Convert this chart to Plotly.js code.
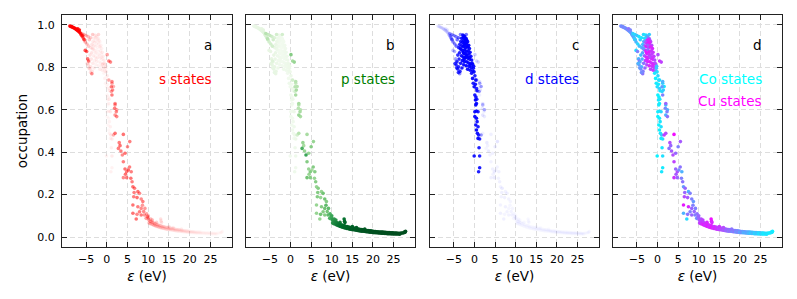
<!DOCTYPE html>
<html><head><meta charset="utf-8">
<script src="https://cdn.plot.ly/plotly-3.0.1.min.js"></script>
<style>body{margin:0;background:#fff}#chart{width:797px;height:299px}</style>
</head><body><div id="chart"></div>
<script>
// ---- tick labels / panel labels ----
const xTicks = [-5, 0, 5, 10, 15, 20, 25];
const yTicks = [0.0, 0.2, 0.4, 0.6, 0.8, 1.0];
const panelLetters = ['a', 'b', 'c', 'd'];
const panelTexts = ['s states', 'p states', 'd states'];
const metalTexts = ['Co states', 'Cu states'];

// ---- states: energy (eV), occupation, s / p / d character, Cu fraction ----
// deep s band
const sBandE   = [-8.9,-8.7,-8.5,-8.3,-8.1,-7.9,-7.7,-7.5,-7.3,-7.1,-6.9,-6.7,-6.5,-6.3,-6.1,-5.9,-7.0,-6.6,-5.7,-5.5];
const sBandOcc = [0.995,0.993,0.992,0.990,0.988,0.986,0.984,0.981,0.978,0.975,0.972,0.968,0.964,0.958,0.952,0.946,0.982,0.976,0.940,0.930];
const sBandS   = [0.95,0.95,0.94,0.94,0.93,0.93,0.92,0.92,0.90,0.90,0.88,0.85,0.80,0.75,0.65,0.55,0.90,0.85,0.45,0.40];
const sBandP   = [0.08,0.08,0.09,0.09,0.10,0.10,0.10,0.11,0.11,0.12,0.12,0.13,0.14,0.15,0.16,0.18,0.11,0.13,0.20,0.22];
const sBandD   = [0.06,0.06,0.07,0.07,0.08,0.08,0.08,0.09,0.09,0.10,0.10,0.10,0.12,0.14,0.20,0.27,0.09,0.10,0.35,0.38];
const sBandCu  = [0.45,0.50,0.42,0.48,0.50,0.45,0.40,0.52,0.45,0.38,0.50,0.42,0.35,0.45,0.30,0.40,0.55,0.48,0.35,0.30];
// s-rich states inside the d region
const sMixE   = [-5.8,-5.4,-5.2,-4.85,-4.6,-4.4,-3.6,0.1,0.5,0.9];
const sMixOcc = [0.950,0.930,0.880,0.875,0.840,0.830,0.770,0.860,0.830,0.825];
const sMixS   = [0.55,0.50,0.65,0.60,0.55,0.50,0.45,0.35,0.50,0.45];
const sMixP   = [0.15,0.15,0.10,0.10,0.10,0.15,0.10,0.45,0.35,0.40];
const sMixD   = [0.30,0.35,0.25,0.30,0.35,0.35,0.45,0.20,0.15,0.15];
const sMixCu  = [0.30,0.20,0.15,0.50,0.30,0.60,0.55,0.70,0.80,0.75];
// d band
const dBandE = [-2.83,-2.55,-2.71,-3.12,-2.38,-2.02,-1.87,-2.64,-3.34,-2.21, -1.66,-2.95,-2.47,-1.93,-1.41,-3.58,-3.07,-2.69,-2.15,-1.74,
  -1.23,-3.81,-3.29,-2.86,-2.33,-1.98,-1.52,-1.08,-3.63,-2.58, -2.12,-1.79,-1.35,-0.88,-4.05,-3.18,-2.76,-2.26,-1.61,-1.17,
  -0.69,-3.74,-2.95,-2.44,-1.87,-1.42,-0.95,-0.47,-4.24,-3.36, -2.61,-1.99,-1.26,-0.73,-0.28,-4.46,-3.88,-3.05,-1.68,-1.05,
  -0.42,-0.11,-4.05,-3.52,-4.72,-4.31,-3.91,-2.35,-1.55,-2.05, -1.25,-0.6,-2.7,-3.4,-1.1,-0.2,-1.9,-2.5];
const dBandOcc = [0.953,0.948,0.941,0.937,0.944,0.936,0.928,0.926,0.922,0.931, 0.921,0.918,0.913,0.909,0.904,0.908,0.902,0.898,0.894,0.897,
  0.889,0.893,0.884,0.879,0.883,0.874,0.878,0.871,0.869,0.866, 0.861,0.858,0.863,0.852,0.858,0.855,0.849,0.846,0.843,0.838,
  0.835,0.839,0.832,0.828,0.826,0.821,0.817,0.814,0.826,0.819, 0.812,0.808,0.804,0.799,0.796,0.811,0.803,0.797,0.791,0.787,
  0.783,0.779,0.792,0.781,0.818,0.797,0.776,0.906,0.896,0.918, 0.848,0.820,0.870,0.890,0.812,0.805,0.850,0.840];
const dBandS = [0.07,0.05,0.05,0.07,0.05,0.05,0.04,0.05,0.08,0.04, 0.05,0.05,0.03,0.04,0.05,0.10,0.07,0.04,0.03,0.04,
  0.05,0.10,0.07,0.05,0.03,0.04,0.05,0.07,0.10,0.04, 0.03,0.04,0.05,0.07,0.11,0.07,0.05,0.04,0.04,0.05,
  0.07,0.10,0.05,0.05,0.04,0.05,0.07,0.07,0.12,0.08, 0.05,0.05,0.05,0.07,0.07,0.12,0.11,0.08,0.07,0.07,
  0.07,0.07,0.12,0.11,0.13,0.12,0.12,0.03,0.04,0.03, 0.05,0.07,0.04,0.08,0.07,0.07,0.03,0.05];
const dBandP = [0.06,0.04,0.05,0.06,0.04,0.04,0.04,0.05,0.07,0.04, 0.04,0.05,0.03,0.04,0.05,0.09,0.06,0.04,0.03,0.04,
  0.05,0.09,0.06,0.04,0.03,0.04,0.05,0.06,0.09,0.04, 0.03,0.04,0.05,0.06,0.10,0.06,0.05,0.04,0.04,0.05,
  0.06,0.09,0.05,0.04,0.04,0.05,0.06,0.07,0.11,0.07, 0.05,0.04,0.05,0.06,0.07,0.11,0.10,0.07,0.06,0.06,
  0.07,0.07,0.11,0.10,0.12,0.11,0.11,0.03,0.04,0.03, 0.05,0.06,0.04,0.07,0.06,0.07,0.03,0.05];
const dBandD = [0.92,0.94,0.93,0.90,0.95,0.94,0.96,0.95,0.88,0.96, 0.95,0.93,0.97,0.96,0.94,0.86,0.92,0.96,0.97,0.96,
  0.93,0.84,0.90,0.95,0.97,0.96,0.95,0.92,0.86,0.96, 0.97,0.96,0.94,0.90,0.82,0.91,0.95,0.96,0.96,0.93,
  0.90,0.84,0.93,0.95,0.96,0.94,0.92,0.90,0.80,0.88, 0.93,0.95,0.93,0.91,0.90,0.80,0.82,0.88,0.92,0.92,
  0.90,0.90,0.80,0.82,0.78,0.80,0.80,0.97,0.96,0.97, 0.94,0.91,0.96,0.88,0.92,0.90,0.97,0.95];
const dBandCu = [0.10,0.25,0.20,0.15,0.40,0.55,0.70,0.80,0.30,0.85, 0.75,0.60,0.90,0.85,0.70,0.25,0.65,0.90,0.70,0.90,
  0.85,0.30,0.45,0.85,0.60,0.90,0.80,0.80,0.35,0.90, 0.75,0.85,0.75,0.75,0.25,0.60,0.85,0.90,0.80,0.85,
  0.70,0.30,0.75,0.85,0.90,0.80,0.85,0.60,0.35,0.55, 0.70,0.85,0.80,0.75,0.20,0.40,0.30,0.60,0.75,0.80,
  0.50,0.15,0.45,0.50,0.30,0.40,0.45,0.65,0.85,0.90, 0.80,0.70,0.90,0.40,0.85,0.25,0.70,0.85];
// partially d states around the d band
const dHaloE   = [-6.0,-5.5,-5.0,-4.5,-4.2,-5.2,-4.8,-4.4,-5.6,-3.9,-3.4,-2.0];
const dHaloOcc = [0.960,0.955,0.950,0.945,0.930,0.920,0.910,0.900,0.935,0.940,0.955,0.955];
const dHaloS   = [0.30,0.30,0.25,0.25,0.20,0.30,0.25,0.20,0.30,0.20,0.20,0.15];
const dHaloP   = [0.30,0.25,0.25,0.20,0.20,0.20,0.20,0.20,0.30,0.15,0.20,0.20];
const dHaloD   = [0.35,0.40,0.45,0.50,0.55,0.45,0.50,0.55,0.35,0.60,0.50,0.55];
const dHaloCu  = [0.20,0.15,0.25,0.10,0.20,0.30,0.15,0.25,0.20,0.10,0.15,0.20];
// Co d streak above the Fermi level
const coE = [-0.7,-0.47,-0.31,-0.08,0.08,0.23,0.47,0.31,0.08,0.47,0.86,0.08,0.47,0.63,0.31,0.86,0.47,0.7,1.0,1.25,
  0.86,1.1,-0.08,1.25,1.25,1.0,0.1,0.3,0.2,0.5,0.6,0.35,0.55];
const coOcc = [0.772,0.748,0.725,0.709,0.670,0.646,0.630,0.623,0.591,0.594,0.591,0.568,0.560,0.544,0.528,0.520,0.505,0.489,0.481,0.462,
  0.465,0.421,0.382,0.382,0.327,0.308,0.760,0.740,0.720,0.700,0.690,0.660,0.650];
const coS = [0.04,0.05,0.04,0.03,0.04,0.03,0.05,0.03,0.04,0.05,0.08,0.03,0.03,0.05,0.04,0.06,0.03,0.05,0.08,0.08,
  0.04,0.06,0.05,0.08,0.05,0.06,0.08,0.05,0.04,0.08,0.06,0.05,0.07];
const coP = [0.05,0.04,0.06,0.04,0.05,0.04,0.05,0.03,0.04,0.05,0.07,0.04,0.03,0.05,0.04,0.06,0.04,0.05,0.06,0.07,
  0.04,0.06,0.05,0.06,0.05,0.06,0.07,0.05,0.04,0.07,0.06,0.05,0.07];
const coD = [0.90,0.92,0.88,0.93,0.90,0.94,0.91,0.95,0.92,0.90,0.85,0.93,0.95,0.90,0.92,0.88,0.94,0.90,0.86,0.85,
  0.92,0.88,0.90,0.86,0.90,0.88,0.85,0.90,0.92,0.85,0.88,0.90,0.86];
const coCu = [0.10,0.05,0.08,0.12,0.05,0.10,0.04,0.08,0.06,0.12,0.15,0.05,0.08,0.10,0.05,0.12,0.06,0.10,0.20,0.15,
  0.08,0.10,0.05,0.12,0.08,0.10,0.15,0.10,0.08,0.20,0.12,0.06,0.10];
// mixed s/p/d states next to the streak
const spdE   = [0.5,1.25,1.6,1.1,2.0,2.4];
const spdOcc = [0.740,0.725,0.710,0.686,0.623,0.600];
const spdS   = [0.30,0.35,0.30,0.35,0.40,0.35];
const spdP   = [0.20,0.25,0.30,0.20,0.30,0.30];
const spdD   = [0.50,0.40,0.40,0.45,0.30,0.35];
const spdCu  = [0.15,0.20,0.10,0.15,0.25,0.30];
// s/p diagonal
const diagE = [1.25,1.1,1.4,1.25,2.0,1.9,2.3,2.0,2.4,2.0, 4.0,3.0,3.2,2.8,3.4,3.75,4.4,5.55,5.0,4.0,
  4.4,4.8,5.2,5.9,4.5,4.8,4.0,5.8,6.1,6.3, 6.7,7.5,7.9,6.5,7.3,8.3,8.7,6.3,7.5,8.3,
  7.9,6.3,7.3,8.3,7.1,9.1,9.5,9.8,8.9,9.2, 1.6,5.5,6.6,8.6,9.6,10.0];
const diagOcc = [0.733,0.709,0.693,0.670,0.630,0.607,0.591,0.575,0.568,0.489, 0.484,0.445,0.431,0.418,0.406,0.387,0.395,0.450,0.426,0.355,
  0.321,0.308,0.316,0.308,0.296,0.280,0.280,0.277,0.261,0.237, 0.230,0.214,0.206,0.190,0.186,0.179,0.167,0.151,0.143,0.135,
  0.119,0.112,0.107,0.104,0.085,0.104,0.088,0.096,0.120,0.135, 0.481,0.330,0.210,0.150,0.110,0.100];
const diagS = [0.45,0.50,0.45,0.50,0.45,0.50,0.45,0.40,0.45,0.55, 0.55,0.50,0.55,0.50,0.50,0.45,0.55,0.50,0.45,0.50,
  0.55,0.50,0.60,0.50,0.55,0.50,0.45,0.55,0.50,0.55, 0.50,0.55,0.45,0.50,0.55,0.45,0.50,0.55,0.50,0.45,
  0.50,0.55,0.45,0.50,0.55,0.40,0.35,0.40,0.45,0.40, 0.30,0.50,0.50,0.40,0.35,0.30];
const diagP = [0.30,0.30,0.35,0.35,0.35,0.30,0.35,0.40,0.35,0.30, 0.35,0.40,0.35,0.60,0.40,0.65,0.40,0.40,0.45,0.45,
  0.40,0.45,0.35,0.45,0.40,0.45,0.50,0.40,0.45,0.40, 0.45,0.40,0.50,0.45,0.40,0.50,0.45,0.40,0.45,0.50,
  0.45,0.40,0.50,0.45,0.40,0.55,0.60,0.55,0.50,0.55, 0.20,0.45,0.45,0.55,0.60,0.65];
const diagD = [0.10,0.08,0.12,0.06,0.10,0.08,0.06,0.10,0.08,0.05, 0.06,0.08,0.05,0.04,0.08,0.05,0.06,0.10,0.08,0.05,
  0.06,0.08,0.05,0.06,0.05,0.08,0.06,0.05,0.06,0.05, 0.08,0.05,0.06,0.05,0.06,0.05,0.04,0.05,0.06,0.04,
  0.05,0.06,0.04,0.05,0.06,0.05,0.04,0.04,0.05,0.04, 0.40,0.05,0.06,0.04,0.04,0.03];
const diagCu = [0.30,0.40,0.20,0.50,0.60,0.45,0.50,0.30,0.55,0.70, 0.95,0.70,0.60,0.55,0.65,0.70,0.60,0.65,0.50,0.75,
  0.60,0.70,0.45,0.30,0.65,0.60,0.80,0.50,0.55,0.40, 0.60,0.30,0.50,0.70,0.65,0.50,0.40,0.90,0.85,0.60,
  0.50,0.30,0.55,0.60,0.15,0.50,0.45,0.55,0.60,0.50, 0.75,0.55,0.60,0.50,0.55,0.60];
// high-energy p tail (upper edge)
const tailUpE = [10.1,10.4,10.7,11.0,11.3,11.6,11.9,12.2,12.5,12.8, 13.1,13.4,13.7,14.0,14.3,14.6,14.9,15.2,15.5,15.8,
  16.1,16.4,16.7,17.0,17.3,17.6,17.9,18.2,18.5,18.8, 19.1,19.4,19.7,20.0,20.3,20.6,20.9,21.2,21.5,21.8,
  22.1,22.4,22.7,23.0,23.3,23.6,23.9,24.2,24.5,24.8, 25.1,25.4,25.7,26.0,26.3,26.6,26.9,27.2,27.5,27.8];
const tailUpOcc = [0.081,0.074,0.073,0.069,0.067,0.063,0.061,0.058,0.057,0.054, 0.053,0.050,0.050,0.047,0.046,0.045,0.043,0.042,0.041,0.040,
  0.039,0.038,0.037,0.035,0.035,0.034,0.032,0.032,0.031,0.030, 0.029,0.029,0.028,0.027,0.026,0.026,0.025,0.025,0.024,0.024,
  0.023,0.023,0.022,0.022,0.021,0.021,0.021,0.020,0.020,0.020, 0.019,0.019,0.019,0.018,0.018,0.018,0.019,0.019,0.020,0.023];
const tailUpS = [0.28,0.25,0.24,0.22,0.20,0.19,0.17,0.16,0.15,0.14, 0.13,0.13,0.12,0.11,0.11,0.10,0.10,0.09,0.09,0.08,
  0.08,0.08,0.07,0.07,0.07,0.06,0.06,0.06,0.05,0.05, 0.05,0.05,0.04,0.04,0.04,0.04,0.04,0.03,0.03,0.03,
  0.03,0.03,0.03,0.02,0.02,0.02,0.02,0.02,0.02,0.02, 0.02,0.02,0.02,0.02,0.02,0.02,0.02,0.02,0.02,0.02];
const tailUpP = [0.70,0.72,0.75,0.78,0.80,0.82,0.84,0.85,0.86,0.87, 0.88,0.86,0.89,0.90,0.88,0.91,0.91,0.92,0.89,0.92,
  0.93,0.93,0.90,0.93,0.94,0.94,0.92,0.94,0.94,0.95, 0.95,0.93,0.95,0.95,0.96,0.95,0.96,0.94,0.96,0.96,
  0.96,0.97,0.96,0.95,0.96,0.97,0.97,0.96,0.97,0.97, 0.97,0.96,0.97,0.97,0.97,0.96,0.97,0.97,0.97,0.97];
const tailUpD = [0.03,0.03,0.03,0.03,0.03,0.02,0.02,0.02,0.02,0.02, 0.02,0.02,0.02,0.02,0.02,0.02,0.02,0.02,0.02,0.02,
  0.02,0.02,0.02,0.02,0.02,0.02,0.02,0.02,0.02,0.02, 0.02,0.02,0.02,0.02,0.02,0.02,0.02,0.02,0.02,0.02,
  0.02,0.02,0.02,0.02,0.02,0.02,0.02,0.02,0.02,0.02, 0.02,0.02,0.02,0.02,0.02,0.02,0.02,0.02,0.02,0.02];
const tailUpCu = [0.65,0.70,0.75,0.80,0.70,0.85,0.80,0.90,0.85,0.80, 0.90,0.85,0.75,0.85,0.80,0.70,0.75,0.80,0.65,0.70,
  0.60,0.70,0.55,0.65,0.60,0.50,0.55,0.60,0.45,0.50, 0.55,0.45,0.40,0.50,0.45,0.35,0.40,0.45,0.35,0.30,
  0.35,0.30,0.25,0.30,0.20,0.25,0.30,0.20,0.15,0.25, 0.20,0.10,0.15,0.20,0.10,0.15,0.10,0.05,0.10,0.05];
// high-energy p tail (lower edge)
const tailLoE = [10.2,10.5,10.9,11.2,11.5,11.8,12.1,12.4,12.7,13.0, 13.3,13.6,13.9,14.2,14.5,14.8,15.1,15.4,15.7,16.0,
  16.3,16.6,16.9,17.2,17.5,17.8,18.1,18.4,18.7,19.0, 19.3,19.6,19.9,20.2,20.5,20.8,21.1,21.4,21.7,22.0,
  22.3,22.6,22.9,23.2,23.5,23.8,24.1,24.4,24.7,25.0, 25.3,25.6,25.9,26.2,26.5];
const tailLoOcc = [0.066,0.063,0.060,0.057,0.055,0.052,0.050,0.048,0.046,0.044, 0.043,0.041,0.040,0.038,0.037,0.036,0.035,0.034,0.033,0.032,
  0.031,0.030,0.029,0.028,0.028,0.027,0.026,0.025,0.025,0.024, 0.023,0.023,0.022,0.021,0.021,0.020,0.020,0.019,0.019,0.018,
  0.018,0.018,0.017,0.017,0.016,0.016,0.016,0.015,0.015,0.015, 0.014,0.014,0.014,0.014,0.013];
const tailLoS = [0.24,0.22,0.20,0.19,0.18,0.16,0.15,0.14,0.13,0.12, 0.12,0.11,0.10,0.10,0.09,0.09,0.08,0.08,0.07,0.07,
  0.07,0.06,0.06,0.06,0.05,0.05,0.05,0.05,0.04,0.04, 0.04,0.04,0.04,0.03,0.03,0.03,0.03,0.03,0.03,0.02,
  0.02,0.02,0.02,0.02,0.02,0.02,0.02,0.02,0.02,0.02, 0.02,0.02,0.02,0.02,0.02];
const tailLoP = [0.72,0.76,0.79,0.81,0.83,0.85,0.86,0.87,0.88,0.89, 0.89,0.90,0.90,0.91,0.92,0.92,0.92,0.93,0.93,0.93,
  0.94,0.94,0.94,0.94,0.95,0.95,0.95,0.95,0.95,0.95, 0.96,0.96,0.96,0.96,0.96,0.96,0.96,0.97,0.97,0.97,
  0.97,0.97,0.97,0.97,0.97,0.97,0.97,0.97,0.97,0.97, 0.97,0.97,0.97,0.97,0.97];
const tailLoD = [0.03,0.03,0.03,0.02,0.02,0.02,0.02,0.02,0.02,0.02, 0.02,0.02,0.02,0.02,0.02,0.02,0.02,0.02,0.02,0.02,
  0.02,0.02,0.02,0.02,0.02,0.02,0.02,0.02,0.02,0.02, 0.02,0.02,0.02,0.02,0.02,0.02,0.02,0.02,0.02,0.02,
  0.02,0.02,0.02,0.02,0.02,0.02,0.02,0.02,0.02,0.02, 0.02,0.02,0.02,0.02,0.02];
const tailLoCu = [0.75,0.80,0.85,0.90,0.80,0.85,0.90,0.80,0.85,0.95, 0.85,0.80,0.90,0.75,0.85,0.70,0.80,0.65,0.75,0.60,
  0.70,0.55,0.65,0.50,0.60,0.55,0.45,0.50,0.55,0.40, 0.45,0.50,0.35,0.40,0.45,0.30,0.35,0.30,0.40,0.25,
  0.30,0.20,0.25,0.30,0.15,0.20,0.25,0.15,0.10,0.20, 0.15,0.10,0.05,0.15,0.10];
// scattered tail states (spike at 13 eV, upturn at the top end)
const tailXE   = [13.0,13.1,13.2,10.0,10.6,11.0,12.0,27.9,27.6,15.0,16.0,18.0];
const tailXOcc = [0.085,0.075,0.068,0.090,0.085,0.080,0.070,0.027,0.023,0.050,0.045,0.038];
const tailXS   = [0.12,0.10,0.10,0.30,0.28,0.25,0.18,0.02,0.02,0.10,0.08,0.06];
const tailXP   = [0.85,0.88,0.90,0.65,0.70,0.72,0.80,0.97,0.97,0.90,0.92,0.93];
const tailXD   = [0.03,0.03,0.03,0.04,0.03,0.03,0.03,0.02,0.02,0.02,0.02,0.02];
const tailXCu  = [0.95,0.90,0.85,0.60,0.70,0.75,0.85,0.05,0.10,0.80,0.70,0.55];

const groups = [
  [sBandE, sBandOcc, sBandS, sBandP, sBandD, sBandCu],
  [sMixE, sMixOcc, sMixS, sMixP, sMixD, sMixCu],
  [dHaloE, dHaloOcc, dHaloS, dHaloP, dHaloD, dHaloCu],
  [dBandE, dBandOcc, dBandS, dBandP, dBandD, dBandCu],
  [coE, coOcc, coS, coP, coD, coCu],
  [spdE, spdOcc, spdS, spdP, spdD, spdCu],
  [diagE, diagOcc, diagS, diagP, diagD, diagCu],
  [tailUpE, tailUpOcc, tailUpS, tailUpP, tailUpD, tailUpCu],
  [tailLoE, tailLoOcc, tailLoS, tailLoP, tailLoD, tailLoCu],
  [tailXE, tailXOcc, tailXS, tailXP, tailXD, tailXCu]
];
const energy = [], occupation = [], sW = [], pW = [], dW = [], cuW = [];
groups.forEach(g => {
  const n = Math.min(...g.map(a => a.length));
  if (g.some(a => a.length !== n)) console.warn('length mismatch', g.map(a => a.length));
  for (let i = 0; i < n; i++) {
    energy.push(g[0][i]); occupation.push(g[1][i]); sW.push(g[2][i]);
    pW.push(g[3][i]); dW.push(g[4][i]); cuW.push(g[5][i]);
  }
});

function order(w) { return energy.map((_, i) => i).sort((a, b) => w[a] - w[b]); }
const MS = 3.6;
function rgbaTrace(w, rgb, xa, ya) {
  const idx = order(w);
  return {type: 'scatter', mode: 'markers', xaxis: xa, yaxis: ya, hoverinfo: 'skip',
    x: idx.map(i => energy[i]), y: idx.map(i => occupation[i]),
    marker: {size: MS, line: {width: 0}, color: idx.map(i => `rgba(${rgb},${Math.min(1, w[i]).toFixed(3)})`)}};
}
const greens = [[0,'#f7fcf5'],[0.125,'#e5f5e0'],[0.25,'#c7e9c0'],[0.375,'#a1d99b'],[0.5,'#74c476'],[0.625,'#41ab5d'],[0.75,'#238b45'],[0.875,'#006d2c'],[1,'#00441b']];
const pIdx = order(pW);
const traces = [
  rgbaTrace(sW, '255,0,0', 'x', 'y'),
  {type: 'scatter', mode: 'markers', xaxis: 'x2', yaxis: 'y2', hoverinfo: 'skip',
    x: pIdx.map(i => energy[i]), y: pIdx.map(i => occupation[i]),
    marker: {size: MS, line: {width: 0}, color: pIdx.map(i => pW[i]), cmin: 0, cmax: 1, colorscale: greens, showscale: false}},
  rgbaTrace(dW, '0,0,255', 'x3', 'y3'),
  {type: 'scatter', mode: 'markers', xaxis: 'x4', yaxis: 'y4', hoverinfo: 'skip',
    x: energy, y: occupation,
    marker: {size: MS, line: {width: 0}, color: cuW.map(c => `rgb(${Math.round(255*c)},${Math.round(255*(1-c))},255)`)}}
];

const FONT = 'DejaVu Sans, Verdana, sans-serif';
const domains = [[0, 0.2361], [0.2556, 0.4903], [0.5111, 0.7458], [0.7653, 1]];
const layout = {
  width: 797, height: 299, margin: {l: 62, r: 15, t: 15, b: 52},
  paper_bgcolor: '#fff', plot_bgcolor: '#fff', showlegend: false,
  font: {family: FONT, size: 11, color: '#000'}, annotations: []
};
domains.forEach((dom, k) => {
  const sx = k === 0 ? '' : String(k + 1);
  layout['xaxis' + sx] = {
    domain: dom, anchor: 'y' + sx, range: [-10.8, 30.2], tickvals: xTicks,
    ticks: 'inside', ticklen: 5, tickwidth: 1, tickcolor: '#222',
    showline: true, linecolor: '#222', linewidth: 1, mirror: 'ticks',
    showgrid: true, gridcolor: '#dddddd', griddash: '5px,3px', gridwidth: 1, zeroline: false,
    tickfont: {family: FONT, size: 11, color: '#000'}, ticklabelstandoff: 2,
    title: {text: '<i>ε</i> (eV)', font: {family: FONT, size: 13.5, color: '#000'}, standoff: 6},
    fixedrange: true
  };
  layout['yaxis' + sx] = {
    domain: [0, 1], anchor: 'x' + sx, range: [-0.047, 1.047], tickvals: yTicks, tickformat: '.1f',
    showticklabels: k === 0,
    ticks: 'inside', ticklen: 5, tickwidth: 1, tickcolor: '#222',
    showline: true, linecolor: '#222', linewidth: 1, mirror: 'ticks',
    showgrid: true, gridcolor: '#dddddd', griddash: '5px,3px', gridwidth: 1, zeroline: false,
    tickfont: {family: FONT, size: 11, color: '#000'}, ticklabelstandoff: 4,
    title: k === 0 ? {text: 'occupation', font: {family: FONT, size: 13.5, color: '#000'}, standoff: 6} : {text: ''},
    fixedrange: true
  };
  layout.annotations.push({xref: 'x' + sx + ' domain', yref: 'y' + sx + ' domain', x: 0.892, y: 0.871,
    xanchor: 'right', yanchor: 'middle', showarrow: false, text: panelLetters[k],
    font: {family: FONT, size: 13.5, color: '#000'}});
});
const textColors = ['#ff0000', '#008000', '#0000ff'];
panelTexts.forEach((t, k) => {
  const sx = k === 0 ? '' : String(k + 1);
  layout.annotations.push({xref: 'x' + sx + ' domain', yref: 'y' + sx + ' domain', x: 0.892, y: 0.724,
    xanchor: 'right', yanchor: 'middle', showarrow: false, text: t,
    font: {family: FONT, size: 13.5, color: textColors[k]}});
});
layout.annotations.push({xref: 'x4 domain', yref: 'y4 domain', x: 0.892, y: 0.724, xanchor: 'right', yanchor: 'middle',
  showarrow: false, text: metalTexts[0], font: {family: FONT, size: 13.5, color: '#00ffff'}});
layout.annotations.push({xref: 'x4 domain', yref: 'y4 domain', x: 0.892, y: 0.629, xanchor: 'right', yanchor: 'middle',
  showarrow: false, text: metalTexts[1], font: {family: FONT, size: 13.5, color: '#ff00ff'}});

Plotly.newPlot('chart', traces, layout, {displayModeBar: false, staticPlot: true});
</script>
</body></html>
